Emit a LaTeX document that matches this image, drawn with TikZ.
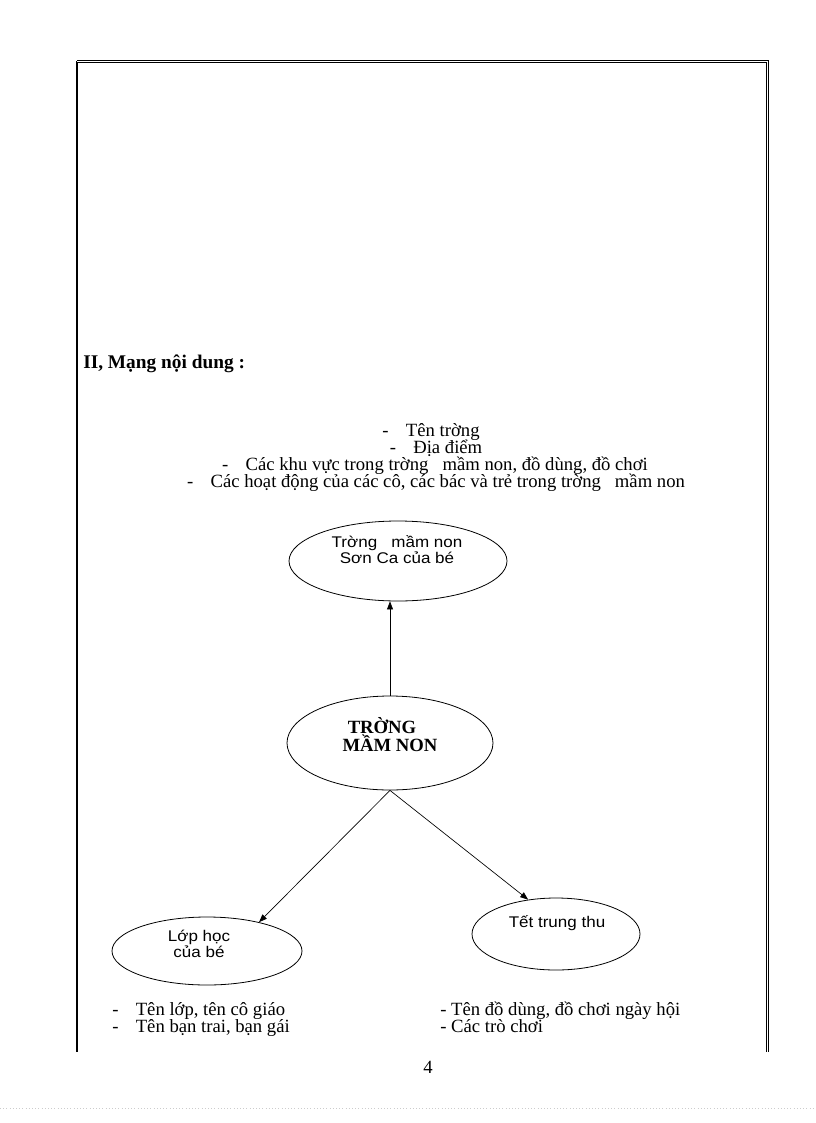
\documentclass[tikz,border=0pt]{standalone}
\usepackage{fontspec}
\setmainfont{Liberation Serif}
\newfontfamily\arialfont[FakeStretch=1.1]{Liberation Sans}
\usetikzlibrary{arrows.meta,shapes.geometric}

\begin{document}
\begin{tikzpicture}[
  x=0.75pt,
  y=-0.75pt,
  topic/.style={
    ellipse,
    draw,
    line width=0.6pt,
    inner sep=0pt
  },
  topictext/.style={
    align=center,
    inner sep=0pt,
    font=\arialfont\fontsize{11.6}{11}\selectfont
  },
  maintext/.style={
    align=center,
    inner sep=0pt,
    font=\bfseries\fontsize{14}{12}\selectfont
  },
  link/.style={
    -{Triangle[length=6pt,width=4.5pt]},
    line width=0.5pt
  },
  entry/.style={
    anchor=base west,
    inner sep=0pt,
    font=\fontsize{14}{16}\selectfont
  },
  cline/.style={
    anchor=base,
    inner sep=0pt,
    font=\fontsize{14}{16}\selectfont
  }
]

\path[use as bounding box] (0,0) rectangle (816,1123);

% page frame
\draw[line width=1.5pt] (77,61) -- (77,1052);
\draw[double, double distance=1pt, line width=0.4pt] (77,61.5) -- (767.5,61.5) -- (767.5,1052);
\draw[gray!40, dotted] (0,1108) -- (816,1108);

\node[entry, font=\bfseries\fontsize{14.5}{16}\selectfont] (head) at (83,368) {II, Mạng nội dung :};

% content lines above the map
\node[cline] (c1) at (431,436) {-\hspace{13pt}Tên trờng};
\node[cline] (c2) at (436,453) {-\hspace{13pt}Địa điểm};
\node[cline] (c3) at (435,470) {-\hspace{13pt}Các khu vực trong trờng~~~mầm non, đồ dùng, đồ chơi};
\node[cline] (c4) at (436,487) {-\hspace{13pt}Các hoạt động của các cô, các bác và trẻ trong trờng~~~mầm non};

% topics
\node[topic, minimum width=163.5pt, minimum height=60pt] (school) at (398,561) {};
\node[topic, minimum width=154.5pt, minimum height=70.5pt] (main) at (390,743) {};
\node[topic, minimum width=142.5pt, minimum height=51pt] (class) at (207,951) {};
\node[topic, minimum width=126pt, minimum height=54pt] (fest) at (556,934) {};

\node[topictext] (school-t) at (397,550) {Trờng~~~mầm non\\Sơn Ca của bé};
\node[maintext] (main-t) at (390,735) {TRỜNG\kern12pt\\MẦM NON};
\node[topictext] (class-t) at (199,944) {Lớp học\\của bé};
\node[topictext] (fest-t) at (557,923) {Tết trung thu};

\draw[link] (main.north) -- (main.north |- school.south);
\draw[link] (main.south) -- (class.29);
\draw[link] (main.south) -- (fest.129);

% content lines below the map
\node[entry] (l1) at (112,1015) {-\hspace{13pt}Tên lớp, tên cô giáo};
\node[entry] (l2) at (112,1032) {-\hspace{13pt}Tên bạn trai, bạn gái};
\node[entry] (r1) at (440,1015) {- Tên đồ dùng, đồ chơi ngày hội};
\node[entry] (r2) at (440,1032) {- Các trò chơi};

\node[cline] (page) at (428,1073) {4};

\end{tikzpicture}
\end{document}
